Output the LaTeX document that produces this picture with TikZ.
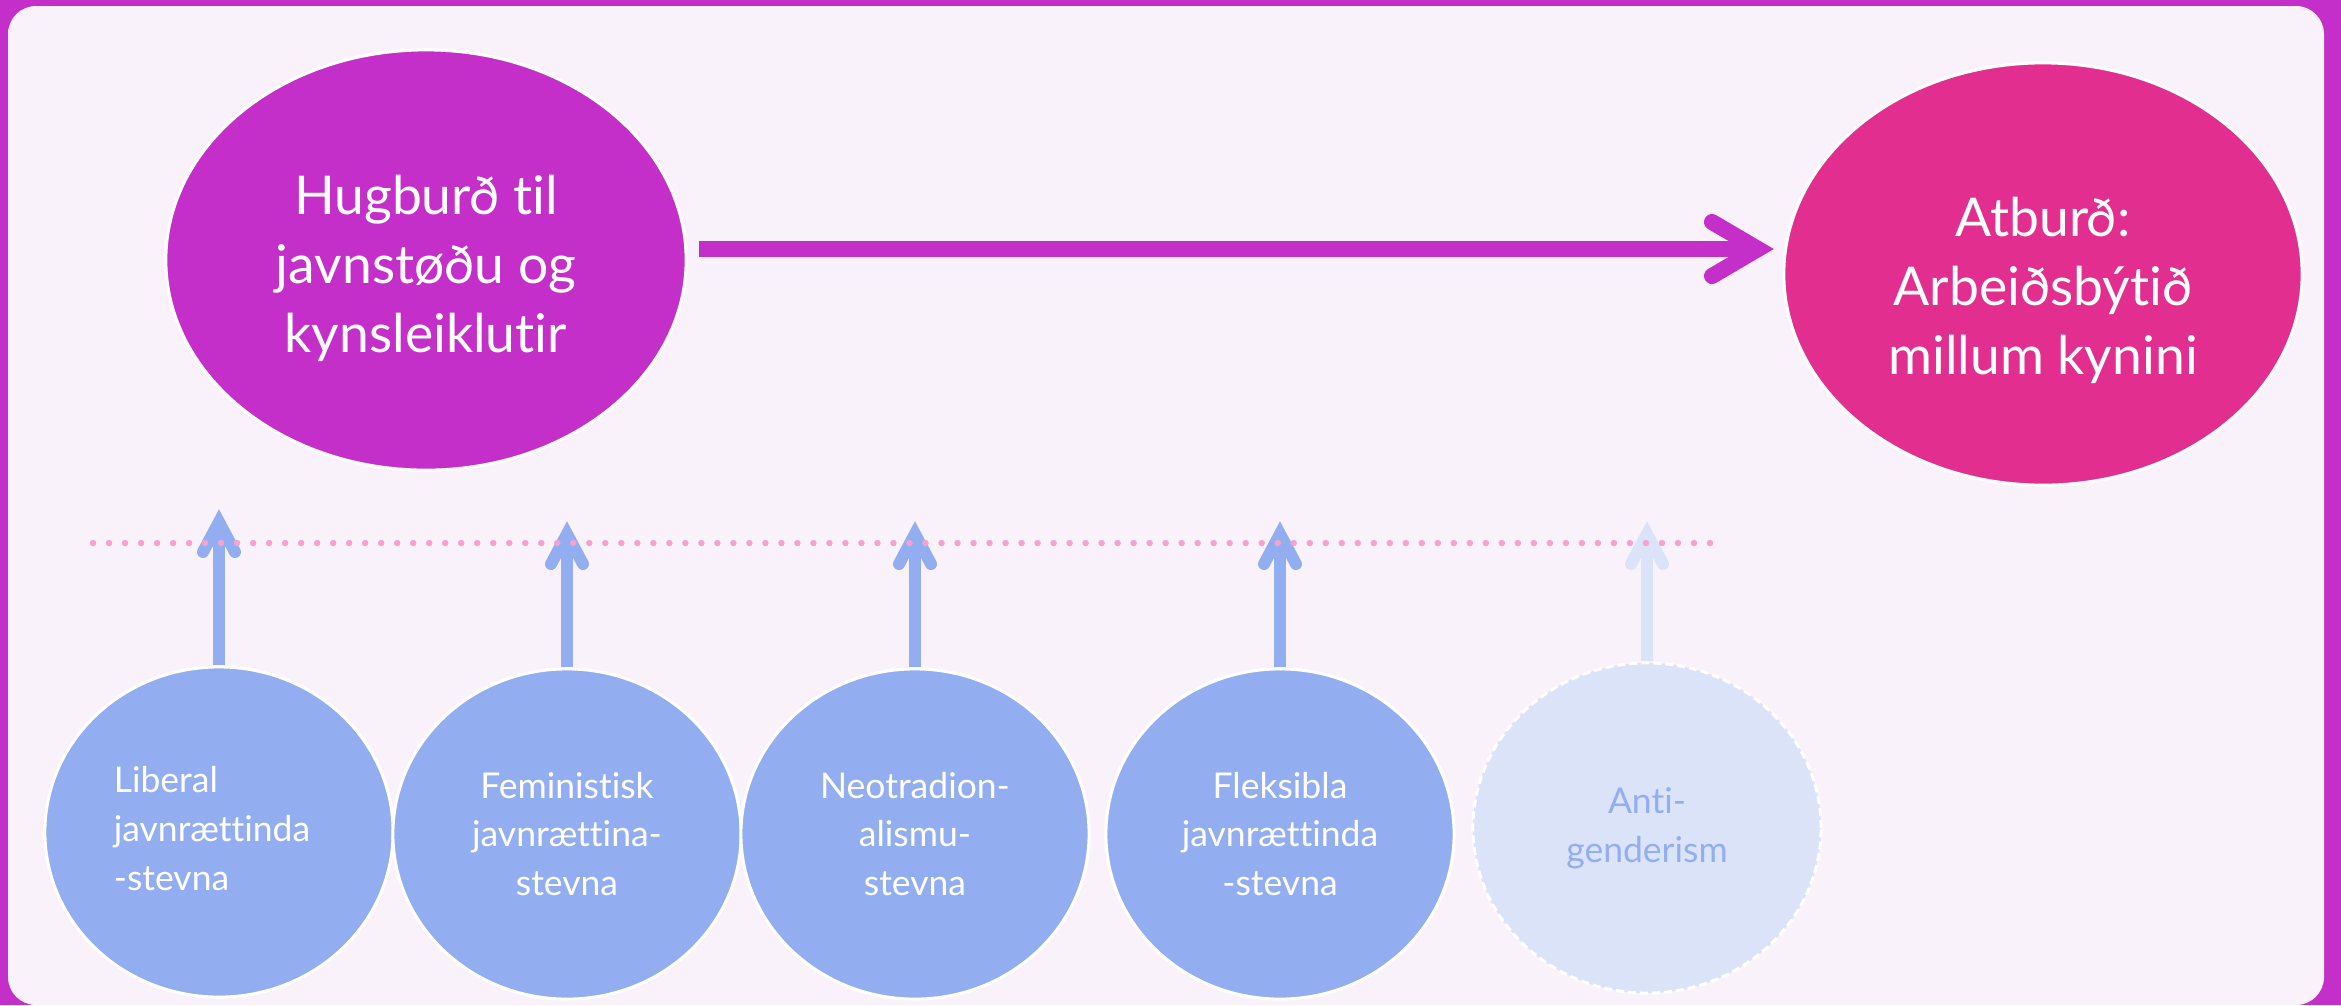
\documentclass[tikz,border=0pt]{standalone}
\usepackage{fontspec}
\setmainfont{Lato}[RawFeature={-liga;-clig;-calt;-dlig;-hlig}]
\usetikzlibrary{shapes.geometric,calc}
\definecolor{framec}{HTML}{C52FC9}
\definecolor{bgin}{HTML}{FAF2FB}
\definecolor{hotc}{HTML}{E22F8F}
\definecolor{peri}{HTML}{93AEF0}
\definecolor{pale}{HTML}{DBE3F9}
\definecolor{dotpink}{HTML}{F4A3D0}
\tikzset{
  bigell/.style={ellipse, draw=white, line width=0.03cm, inner sep=0pt,
    minimum width=5.2cm, minimum height=4.2cm},
  bigtxt/.style={text=white, align=center, inner sep=0pt,
    font=\fontsize{15.2}{19.6}\selectfont},
  smallell/.style={ellipse, draw=white, line width=0.03cm, fill=peri, inner sep=0pt,
    minimum width=3.48cm, minimum height=3.3cm, text=white, align=center,
    font=\fontsize{10.1}{13.9}\selectfont},
  ghostell/.style={smallell, fill=pale, text=peri, dash pattern=on 0.08cm off 0.04cm},
  vshaft/.style={draw=#1, line width=0.12cm},
  vhead/.style={vshaft=#1, line cap=round, line join=miter, miter limit=10},
  hshaft/.style={draw=framec, line width=0.16cm},
  hhead/.style={hshaft, line cap=round, line join=miter, miter limit=10},
  dotline/.style={draw=dotpink, line width=0.065cm, line cap=round, dash pattern=on 0pt off 0.16cm}
}
\begin{document}
\begin{tikzpicture}[x=0.01cm, y=-0.01cm]
\useasboundingbox (0,0) rectangle (2341,1005);
\fill[framec] (0,0) rectangle (2341,1005);
\fill[bgin, rounded corners=0.28cm] (8,6) rectangle (2324,1005);

% main ellipses
\node[bigell, fill=framec] (e1) at (426,260) {};
\node[bigtxt] (e1t) at (426,268) {Hugburð til\\javnstøðu og\\kynsleiklutir};
\node[bigell, fill=hotc, minimum width=5.18cm, minimum height=4.22cm] (e2) at (2043,274) {};
\node[bigtxt] (e2t) at (2043,290) {Atburð:\\Arbeiðsbýtið\\millum kynini};

% small circles
\node[smallell] (c1) at (219,832) {\begin{tabular}{@{}l@{\hspace{0.14cm}}}Liberal\\javnrættinda\\-stevna\end{tabular}};
\node[smallell] (c2) at (567,834) {Feministisk\\javnrættina-\\stevna};
\node[smallell] (c3) at (915,834) {Neotradion-\\alismu-\\stevna};
\node[smallell] (c4) at (1280,834) {Fleksibla\\javnrættinda\\-stevna};
\node[ghostell] (c5) at (1647,828) {Anti-\\genderism};

% main arrow
\coordinate (a0) at (699,249);
\coordinate (a1) at (1758,249);
\draw[hshaft] (a0) -- (a1);
\draw[hhead] ($(a1)+(-46,-27)$) -- (a1) -- ($(a1)+(-46,27)$);

% vertical arrows
\coordinate (v1) at (219,522);
\coordinate (v2) at (567,534);
\coordinate (v3) at (915,534);
\coordinate (v4) at (1280,534);
\coordinate (v5) at (1647,534);
\foreach \i/\c in {1/peri,2/peri,3/peri,4/peri,5/pale}{
  \draw[vshaft=\c] (c\i.north) -- (v\i);
  \draw[vhead=\c] ($(v\i)+(-16,30)$) -- (v\i) -- ($(v\i)+(16,30)$);
}

% dotted line
\coordinate (d0) at (93,543);
\coordinate (d1) at (1711,543);
\draw[dotline] (d0) -- (d1);
\end{tikzpicture}
\end{document}
